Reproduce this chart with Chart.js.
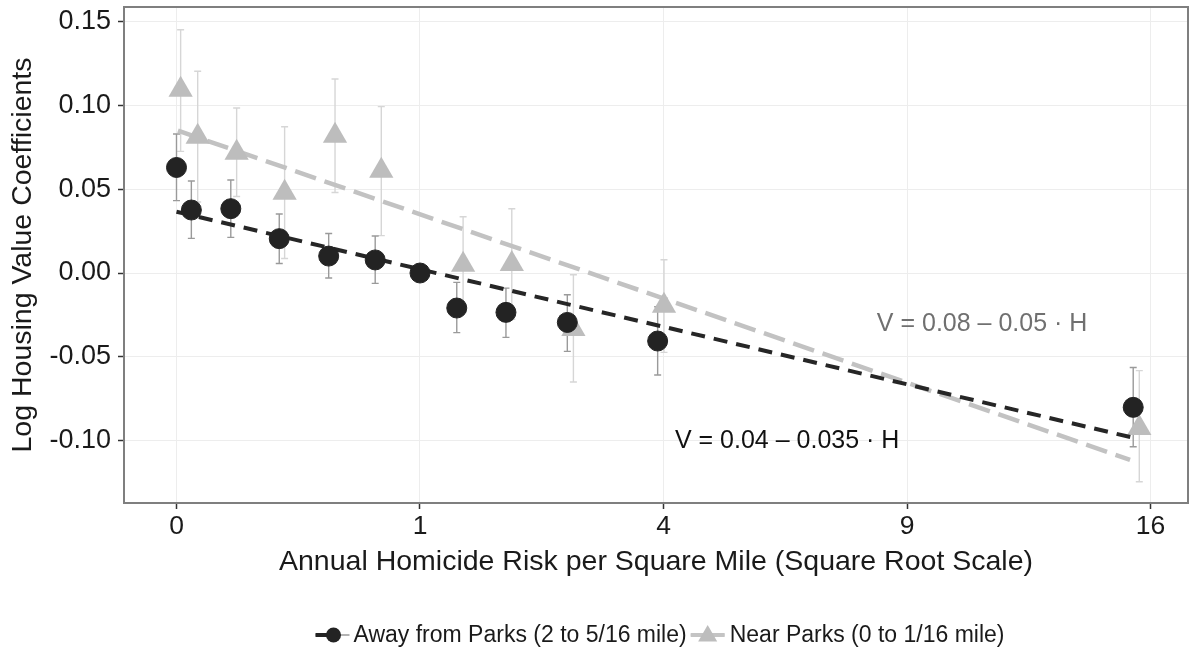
<!DOCTYPE html>
<html>
<head>
<meta charset="utf-8">
<script src="https://cdn.jsdelivr.net/npm/chart.js@4.4.1/dist/chart.umd.min.js"></script>
<style>
  html, body { margin: 0; padding: 0; background: #fff; overflow: hidden; }
  #wrap { width: 1190px; height: 653px; }
  #homicideChart { display: block; }
</style>
</head>
<body>
<div id="wrap"><canvas id="homicideChart"></canvas></div>
<script>
// x values are positions on the square-root axis (sqrt of homicide risk)
const xTickRoots = [0, 1, 2, 3, 4];
const xTickLabels = ["0", "1", "4", "9", "16"];
const yTickValues = [-0.10, -0.05, 0, 0.05, 0.10, 0.15];
const yTickLabels = ["-0.10", "-0.05", "0.00", "0.05", "0.10", "0.15"];

const seriesNames = ["Away from Parks (2 to 5/16 mile)", "Near Parks (0 to 1/16 mile)"];

const awayX = [0.0, 0.061, 0.223, 0.422, 0.625, 0.816, 1.0, 1.151, 1.353, 1.605, 1.976, 3.929];
const awayY = [0.063, 0.0376, 0.0384, 0.0205, 0.0101, 0.0078, 0.0, -0.0209, -0.0235, -0.0295, -0.0406, -0.0802];
const awayLow = [0.0432, 0.0207, 0.0213, 0.0057, -0.0030, -0.0062, null, -0.0356, -0.0384, -0.0468, -0.0609, -0.1037];
const awayHigh = [0.0830, 0.0549, 0.0555, 0.0352, 0.0236, 0.0221, null, -0.0056, -0.0090, -0.0130, -0.0201, -0.0564];

const nearX = [0.017, 0.087, 0.247, 0.444, 0.651, 0.841, 1.177, 1.377, 1.630, 2.002, 3.954];
const nearY = [0.1094, 0.0814, 0.0718, 0.0479, 0.0820, 0.0611, 0.0050, 0.0054, -0.0334, -0.0195, -0.0925];
const nearLow = [0.0726, 0.0424, 0.0457, 0.0087, 0.0481, 0.0223, -0.0236, -0.0276, -0.0651, -0.0474, -0.1246];
const nearHigh = [0.1452, 0.1204, 0.0985, 0.0873, 0.1158, 0.0993, 0.0336, 0.0384, -0.0010, 0.0079, -0.0583];

// fitted lines (end points)
const awayFitX = [0, 3.936];
const awayFitY = [0.0366, -0.0986];
const nearFitX = [0.006, 3.916];
const nearFitY = [0.085, -0.1115];

const fitLabels = ["V = 0.04 \u2013 0.035 \u00b7 H", "V = 0.08 \u2013 0.05 \u00b7 H"];
const fitLabelX = [2.047, 2.876];
const fitLabelY = [-0.1005, -0.0305];

const FONT = "'Liberation Sans', Arial, Helvetica, sans-serif";
const DARK = "#232323";
const LIGHT = "#bdbdbd";
const DARK_ERR = "#9a9a9a";
const LIGHT_ERR = "#d6d6d6";

const toPoints = (xs, ys) => xs.map((x, i) => ({ x: x, y: ys[i] }));

// keep the panel exactly where the reference has it
function fixBox(s, size) {
  if (s.isHorizontal()) s.height = size; else s.width = size;
  s.paddingLeft = 0;
  s.paddingRight = 0;
  s.paddingTop = 0;
  s.paddingBottom = 0;
}

// error bars drawn behind the points
const errorBars = {
  id: "errorBars",
  beforeDatasetsDraw(chart) {
    const { ctx, scales: { x, y } } = chart;
    const drawBars = (xs, lows, highs, color) => {
      ctx.save();
      ctx.strokeStyle = color;
      ctx.lineWidth = 1.4;
      xs.forEach((v, i) => {
        if (lows[i] === null) return;
        const px = x.getPixelForValue(v);
        const top = y.getPixelForValue(highs[i]);
        const bot = y.getPixelForValue(lows[i]);
        ctx.beginPath();
        ctx.moveTo(px, top); ctx.lineTo(px, bot);
        ctx.moveTo(px - 3.5, top); ctx.lineTo(px + 3.5, top);
        ctx.moveTo(px - 3.5, bot); ctx.lineTo(px + 3.5, bot);
        ctx.stroke();
      });
      ctx.restore();
    };
    drawBars(nearX, nearLow, nearHigh, LIGHT_ERR);
    drawBars(awayX, awayLow, awayHigh, DARK_ERR);
  }
};

function drawTriangle(ctx, cx, cy, r) {
  ctx.beginPath();
  for (let k = 0; k < 3; k++) {
    const a = k * 2 * Math.PI / 3;
    const px = cx + Math.sin(a) * r;
    const py = cy - Math.cos(a) * r;
    if (k === 0) ctx.moveTo(px, py); else ctx.lineTo(px, py);
  }
  ctx.closePath();
  ctx.fill();
}

// panel box, equation labels and the bottom legend
const extras = {
  id: "extras",
  afterDraw(chart) {
    const { ctx, chartArea: a, scales: { x, y } } = chart;
    ctx.save();

    ctx.strokeStyle = "#7f7f7f";
    ctx.lineWidth = 2;
    ctx.strokeRect(a.left, a.top, a.right - a.left, a.bottom - a.top);

    ctx.font = "25px " + FONT;
    ctx.textAlign = "left";
    ctx.textBaseline = "middle";
    const labelColors = ["#111111", "#707070"];
    fitLabels.forEach((t, i) => {
      ctx.fillStyle = labelColors[i];
      ctx.fillText(t, x.getPixelForValue(fitLabelX[i]), y.getPixelForValue(fitLabelY[i]));
    });

    // legend
    ctx.font = "23px " + FONT;
    const w1 = ctx.measureText(seriesNames[0]).width;
    const w2 = ctx.measureText(seriesNames[1]).width;
    const keyW = 34;
    const total = keyW + 4 + w1 + 4 + keyW + 5 + w2;
    const ly = 635;
    let lx = (a.left + a.right) / 2 + 4 - total / 2;

    // key 1
    ctx.strokeStyle = DARK_ERR; ctx.lineWidth = 1.4;
    ctx.beginPath(); ctx.moveTo(lx, ly); ctx.lineTo(lx + keyW, ly); ctx.stroke();
    ctx.strokeStyle = DARK; ctx.lineWidth = 4;
    ctx.beginPath(); ctx.moveTo(lx, ly); ctx.lineTo(lx + 24, ly); ctx.stroke();
    ctx.fillStyle = DARK;
    ctx.beginPath(); ctx.arc(lx + 18, ly, 7.5, 0, 2 * Math.PI); ctx.fill();
    lx += keyW + 4;
    ctx.fillStyle = "#1a1a1a";
    ctx.fillText(seriesNames[0], lx, ly + 1);
    lx += w1 + 4;

    // key 2
    ctx.strokeStyle = LIGHT_ERR; ctx.lineWidth = 1.4;
    ctx.beginPath(); ctx.moveTo(lx, ly); ctx.lineTo(lx + keyW, ly); ctx.stroke();
    ctx.strokeStyle = "#c4c4c4"; ctx.lineWidth = 4;
    ctx.beginPath(); ctx.moveTo(lx, ly); ctx.lineTo(lx + keyW, ly); ctx.stroke();
    ctx.fillStyle = LIGHT;
    drawTriangle(ctx, lx + 17, ly + 1, 11);
    lx += keyW + 5;
    ctx.fillStyle = "#1a1a1a";
    ctx.fillText(seriesNames[1], lx, ly + 1);

    ctx.restore();
  }
};

const ctx = document.getElementById("homicideChart").getContext("2d");
new Chart(ctx, {
  type: "scatter",
  data: {
    datasets: [
      {
        label: seriesNames[0],
        data: toPoints(awayX, awayY),
        pointStyle: "circle",
        pointRadius: 10,
        backgroundColor: DARK,
        borderColor: DARK,
        borderWidth: 1
      },
      {
        label: "away fit",
        data: toPoints(awayFitX, awayFitY),
        showLine: true,
        pointRadius: 0,
        borderColor: "#262626",
        borderWidth: 4,
        borderDash: [14, 9]
      },
      {
        label: seriesNames[1],
        data: toPoints(nearX, nearY),
        pointStyle: "triangle",
        pointRadius: 14,
        backgroundColor: LIGHT,
        borderColor: LIGHT,
        borderWidth: 0
      },
      {
        label: "near fit",
        data: toPoints(nearFitX, nearFitY),
        showLine: true,
        pointRadius: 0,
        borderColor: "#c2c2c2",
        borderWidth: 4.5,
        borderDash: [22, 9]
      }
    ]
  },
  options: {
    responsive: true,
    maintainAspectRatio: false,
    animation: false,
    layout: { autoPadding: false, padding: { left: 0, right: 2, top: 7, bottom: 0 } },
    plugins: {
      legend: { display: false },
      tooltip: { enabled: false }
    },
    scales: {
      x: {
        type: "linear",
        min: -0.2156,
        max: 4.154,
        afterBuildTicks: (s) => { s.ticks = xTickRoots.map((v) => ({ value: v })); },
        afterFit: (s) => fixBox(s, 150),
        border: { display: false },
        grid: { color: "#ededed", lineWidth: 1, tickLength: 6, tickColor: "#333333", tickWidth: 1.5 },
        ticks: {
          callback: (v, i) => xTickLabels[i],
          font: { size: 26.5, family: FONT },
          color: "#1a1a1a",
          padding: 2,
          maxRotation: 0,
          autoSkip: false
        },
        title: {
          display: true,
          text: "Annual Homicide Risk per Square Mile (Square Root Scale)",
          font: { size: 28.5, family: FONT },
          color: "#1a1a1a",
          padding: { top: 0, bottom: 74 }
        }
      },
      y: {
        min: -0.1373,
        max: 0.1588,
        afterBuildTicks: (s) => { s.ticks = yTickValues.map((v) => ({ value: v })); },
        afterFit: (s) => fixBox(s, 124),
        border: { display: false },
        grid: { color: "#ededed", lineWidth: 1, tickLength: 6, tickColor: "#333333", tickWidth: 1.5 },
        ticks: {
          callback: (v, i) => yTickLabels[i],
          font: { size: 27, family: FONT },
          color: "#1a1a1a",
          padding: 7
        },
        title: {
          display: true,
          text: "Log Housing Value Coefficients",
          font: { size: 28.5, family: FONT },
          color: "#1a1a1a",
          padding: { top: 6, bottom: 0 }
        }
      }
    }
  },
  plugins: [errorBars, extras]
});
</script>
</body>
</html>
